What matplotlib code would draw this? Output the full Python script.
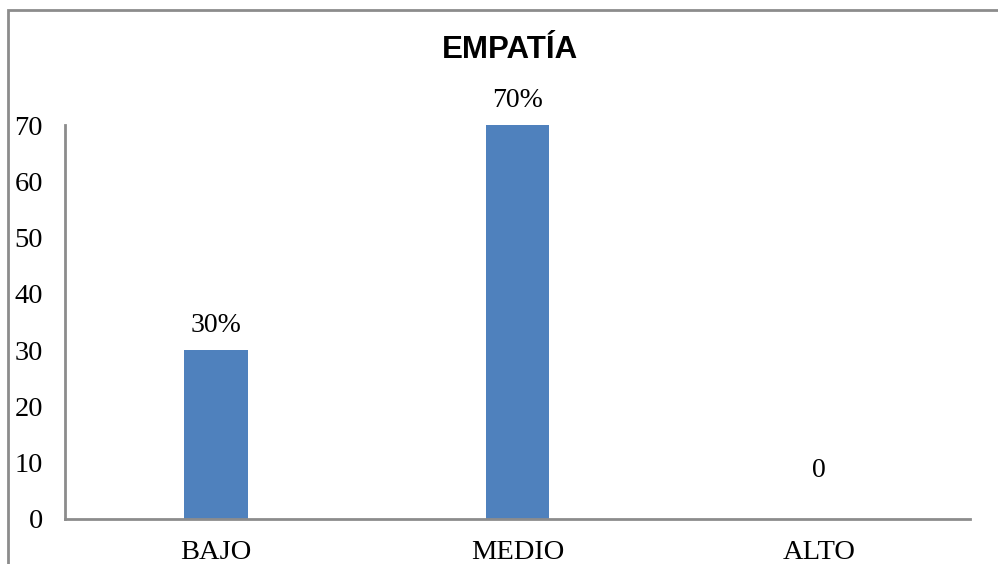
#! /usr/bin/env python3

import matplotlib
matplotlib.use('Agg')
from matplotlib import pyplot as plt
from matplotlib.patches import Rectangle


categories = ['BAJO', 'MEDIO', 'ALTO']
values = [30, 70, 0]
labels = ['30%', '70%', '0']
label_offsets = [18, 18, 35]   # points above bar top
yticks = [0, 10, 20, 30, 40, 50, 60, 70]

bar_color = '#4F81BD'
grey = '#8c8c8c'
serif = 'Liberation Serif'

fig = plt.figure(figsize=(9.98, 5.64), dpi=100)
ax = fig.add_axes([65 / 998, 45 / 564, 905 / 998, 394 / 564])

x = range(len(categories))
ax.bar(x, values, width=0.212, color=bar_color)

ax.set_xlim(-0.5, 2.5)
ax.set_ylim(0, 70)
ax.set_yticks(yticks)
ax.set_xticks(list(x))
ax.set_xticklabels(categories)

for spine in ['top', 'right']:
    ax.spines[spine].set_visible(False)
for spine in ['left', 'bottom']:
    ax.spines[spine].set_color(grey)
    ax.spines[spine].set_linewidth(2)

ax.tick_params(axis='y', length=0, pad=16, labelsize=20.5)
ax.tick_params(axis='x', length=0, pad=15, labelsize=20.5)
for t in ax.get_xticklabels() + ax.get_yticklabels():
    t.set_fontfamily(serif)

for i, (v, lab) in enumerate(zip(values, labels)):
    ax.annotate(lab, (i, v), xytext=(0, label_offsets[i]), textcoords='offset points',
                ha='center', va='center', fontsize=20, family=serif)

fig.text(510 / 998, 1 - 50 / 564, 'EMPATÍA', ha='center', va='center',
         fontsize=22.5, fontweight='bold', family='Liberation Sans')

# chart border (right and bottom edges fall outside the image)
fig.patches.append(Rectangle((8 / 998, -0.1), 1.2, 1 - 10 / 564 + 0.1,
                             transform=fig.transFigure, fill=False,
                             edgecolor=grey, linewidth=2))

fig.savefig('out.png', dpi=100)
